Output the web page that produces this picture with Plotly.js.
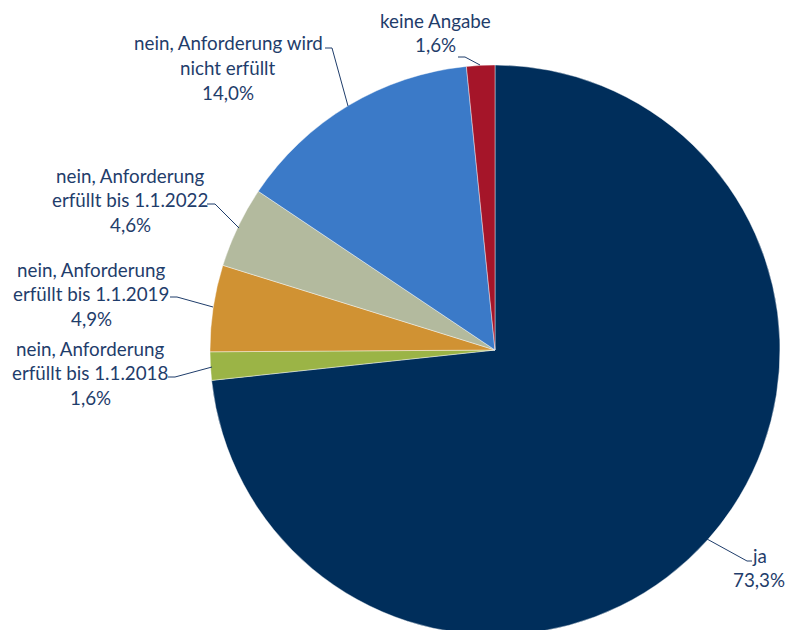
<!DOCTYPE html>
<html>
<head>
<meta charset="utf-8">
<script src="https://cdn.plot.ly/plotly-3.0.1.min.js"></script>
<style>
html,body{margin:0;padding:0;overflow:hidden;background:#fff;}
#chart{width:786px;height:640px;}
</style>
</head>
<body>
<div id="chart"></div>
<script>
// Data
const categories = [
  "ja",
  "nein, Anforderung erfüllt bis 1.1.2018",
  "nein, Anforderung erfüllt bis 1.1.2019",
  "nein, Anforderung erfüllt bis 1.1.2022",
  "nein, Anforderung wird nicht erfüllt",
  "keine Angabe"
];
const shares = [73.3, 1.6, 4.9, 4.6, 14.0, 1.6];
const labelLines = [
  ["ja"],
  ["nein, Anforderung", "erfüllt bis 1.1.2018"],
  ["nein, Anforderung", "erfüllt bis 1.1.2019"],
  ["nein, Anforderung", "erfüllt bis 1.1.2022"],
  ["nein, Anforderung wird", "nicht erfüllt"],
  ["keine Angabe"]
];
const sliceColors = ["#002E5B", "#9BB446", "#D09233", "#B3BA9E", "#3B7AC8", "#A51529"];

// Layout helpers (pixel -> paper)
const W = 786, H = 640;
const px = x => x / W;
const py = y => 1 - y / H;
const textColor = "#1F3D6B";
const FS = 18.8;
const LINE = 24.5;

// label placement (center x, first line y) and leader line paths (pixels)
const labelPos = [
  [759, 555],
  [90, 348],
  [91, 269],
  [130, 175],
  [228, 43],
  [436, 20]
];
const leaders = [
  [[707, 539], [747, 561], [752, 561]],
  [[212, 367], [175, 377], [168, 377]],
  [[213, 307], [177, 297], [170, 297]],
  [[239, 228], [215, 204], [207, 204]],
  [[348, 106], [332, 48], [325, 48]],
  [[480, 65], [465, 57], [458, 57]]
];

const fmt = v => v.toFixed(1).replace(".", ",") + "%";

const annotations = [];
const shapes = [];
categories.forEach((c, i) => {
  const lines = labelLines[i].concat([fmt(shares[i])]);
  const [cx, y0] = labelPos[i];
  lines.forEach((t, k) => {
    annotations.push({
      text: t, showarrow: false, xref: "paper", yref: "paper",
      x: px(cx), y: py(y0 + k * LINE), xanchor: "center", yanchor: "middle",
      font: {family: "Lato, 'Liberation Sans', sans-serif", size: FS, color: textColor}
    });
  });
  const pts = leaders[i];
  let d = "M" + pts.map(p => px(p[0]) + "," + py(p[1])).join(" L");
  shapes.push({type: "path", xref: "paper", yref: "paper", path: d,
    line: {color: textColor, width: 1}});
});

const trace = {
  type: "pie",
  labels: categories,
  values: shares,
  sort: false,
  direction: "clockwise",
  rotation: 0,
  textinfo: "none",
  hoverinfo: "label+percent",
  marker: {colors: sliceColors, line: {color: "rgba(255,255,255,0.7)", width: 0.6}},
  domain: {x: [210 / W, 780 / W], y: [5 / H, 575 / H]},
  showlegend: false
};

Plotly.newPlot("chart", [trace], {
  width: W, height: H,
  margin: {l: 0, r: 0, t: 0, b: 0},
  paper_bgcolor: "#fff",
  showlegend: false,
  annotations: annotations,
  shapes: shapes
}, {displayModeBar: false, staticPlot: true});
</script>
</body>
</html>
